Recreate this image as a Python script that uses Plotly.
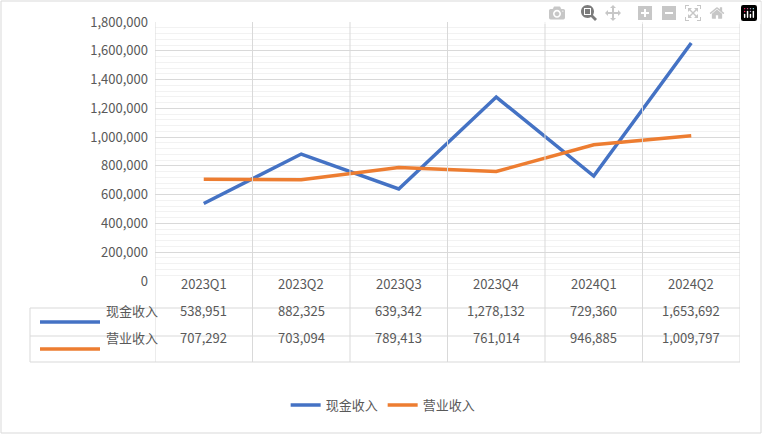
import plotly.graph_objects as go

quarters = ["2023Q1", "2023Q2", "2023Q3", "2023Q4", "2024Q1", "2024Q2"]
cash_income = [538951, 882325, 639342, 1278132, 729360, 1653692]
revenue = [707292, 703094, 789413, 761014, 946885, 1009797]
series_names = ["现金收入", "营业收入"]
colors = ["#4472C4", "#ED7D31"]

W, H = 763, 435
L, R, T, B = 155, 23, 22, 154
pw, ph = W - L - R, H - T - B

def px_y(y):
    return (H - B - y) / ph

def px_x(x):
    return (x - L) / pw

font = "Noto Sans CJK SC, Liberation Sans, sans-serif"
grey = "#595959"
line_col = "#D9D9D9"

fig = go.Figure()
for name, vals, c in zip(series_names, [cash_income, revenue], colors):
    fig.add_trace(go.Scatter(x=quarters, y=vals, name=name, mode="lines",
                             line=dict(color=c, width=3.5)))

shapes = []
annos = []
table_bottom = px_y(362)
# vertical boundaries
for k in range(len(quarters) + 1):
    shapes.append(dict(type="line", xref="x", yref="paper", x0=k - 0.5, x1=k - 0.5,
                       y0=table_bottom, y1=1, line=dict(color=line_col, width=1)))
# horizontal table rows
for yy in [308, 336, 362]:
    shapes.append(dict(type="line", xref="paper", yref="paper", x0=px_x(30), x1=1,
                       y0=px_y(yy), y1=px_y(yy), line=dict(color=line_col, width=1)))
shapes.append(dict(type="line", xref="paper", yref="paper", x0=px_x(30), x1=px_x(30),
                   y0=table_bottom, y1=px_y(308), line=dict(color=line_col, width=1)))
# header
for q in quarters:
    annos.append(dict(x=q, xref="x", y=px_y(295), yref="paper", text=q, showarrow=False,
                      font=dict(size=13, color=grey)))
for row_y, name, vals, c in zip([322, 349], series_names, [cash_income, revenue], colors):
    shapes.append(dict(type="line", xref="paper", yref="paper", x0=px_x(40), x1=px_x(100),
                       y0=px_y(row_y), y1=px_y(row_y), line=dict(color=c, width=3.5)))
    annos.append(dict(x=px_x(104), xref="paper", xanchor="left", y=px_y(row_y), yref="paper",
                      text=name, showarrow=False, font=dict(size=13, color=grey)))
    for q, v in zip(quarters, vals):
        annos.append(dict(x=q, xref="x", y=px_y(row_y), yref="paper", text=f"{v:,}",
                          showarrow=False, font=dict(size=13, color=grey)))
# outer border
shapes.append(dict(type="rect", xref="paper", yref="paper", x0=px_x(1), x1=px_x(W - 2),
                   y0=px_y(H - 2), y1=px_y(1), line=dict(color="#D9D9D9", width=1)))

fig.update_layout(
    width=W, height=H, margin=dict(l=L, r=R, t=T, b=B),
    paper_bgcolor="white", plot_bgcolor="white",
    font=dict(family=font, size=13, color=grey),
    shapes=shapes, annotations=annos,
    legend=dict(orientation="h", x=0.39, xanchor="center", y=px_y(405), yanchor="middle",
                font=dict(size=13, color=grey)),
    xaxis=dict(range=[-0.5, 5.5], showticklabels=False, showgrid=False, zeroline=False),
    yaxis=dict(range=[0, 1800000], dtick=200000, tickformat=",d", gridcolor=line_col,
               zeroline=False, ticks="", ticklabelstandoff=6,
               minor=dict(dtick=40000, showgrid=True, gridcolor="#F2F2F2")),
)
fig.write_html("out.html", post_script="document.body.style.margin='0';")
